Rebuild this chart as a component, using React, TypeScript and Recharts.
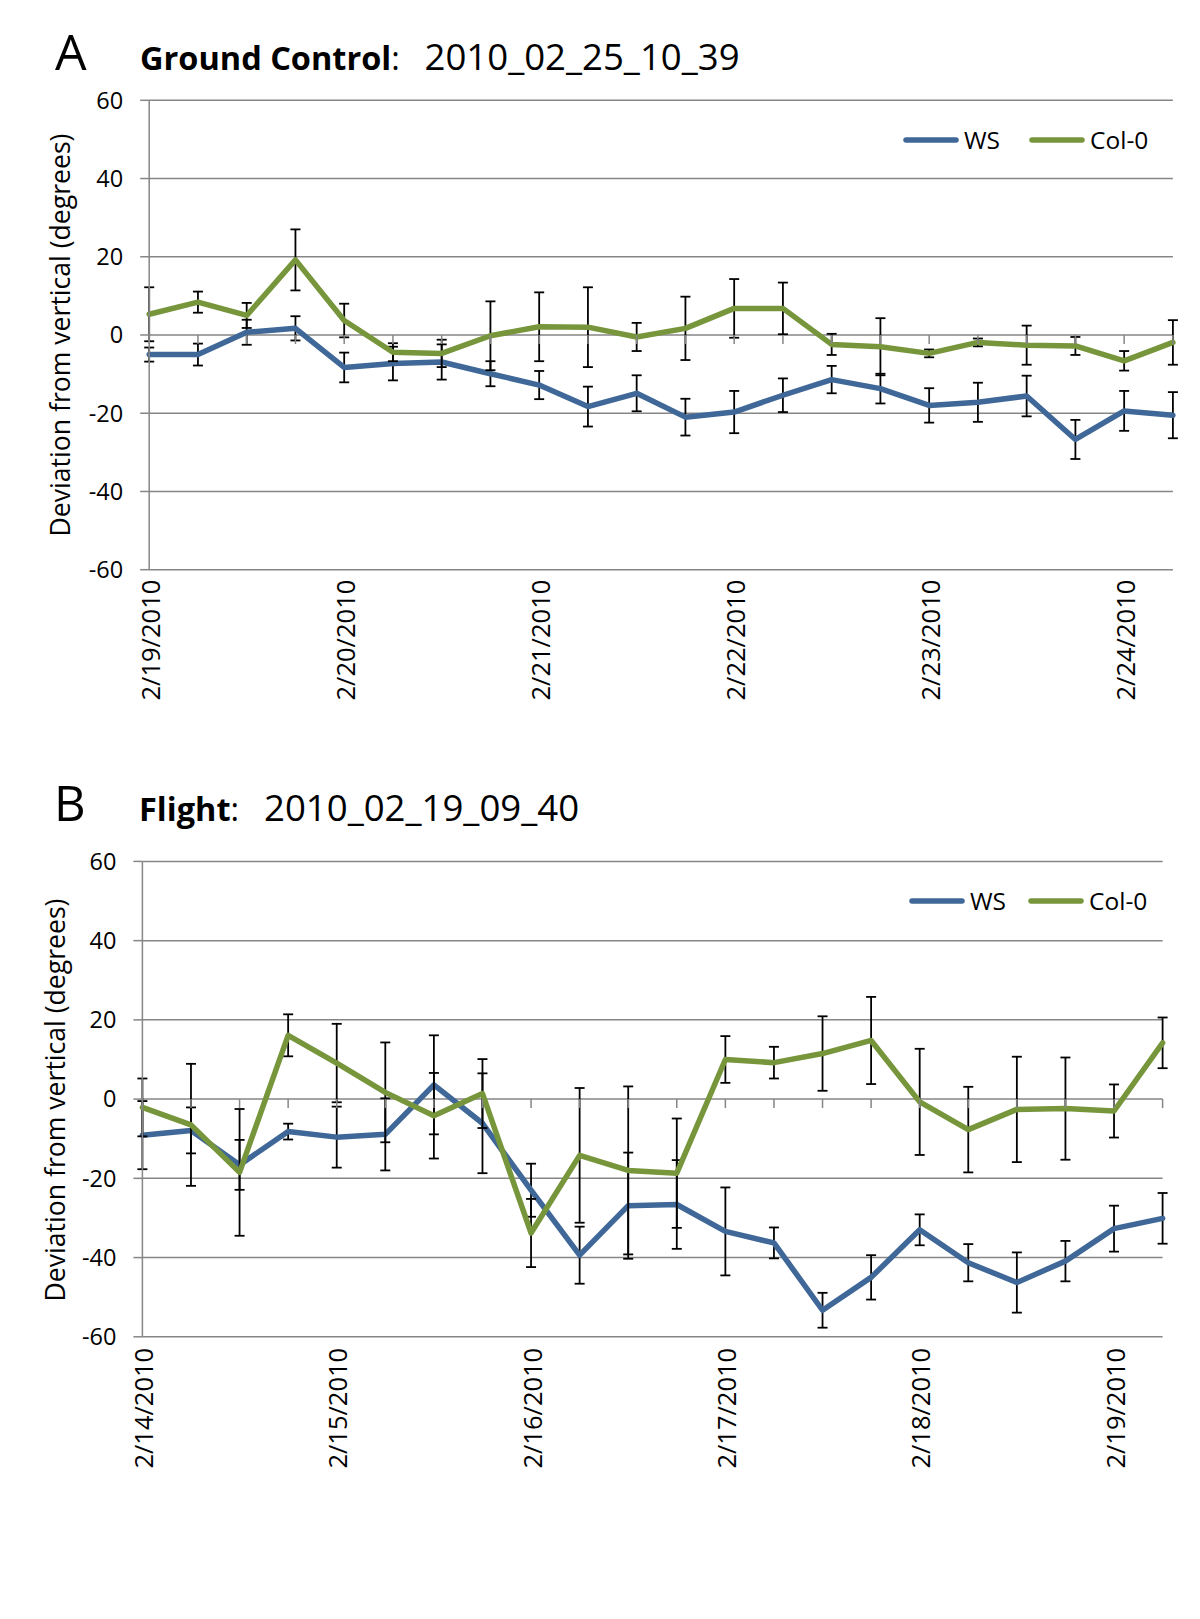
import React from 'react';
import {
  LineChart,
  Line,
  XAxis,
  YAxis,
  CartesianGrid,
  ErrorBar,
  Legend,
  ReferenceDot,
} from 'recharts';

const FONT = '"Open Sans", "DejaVu Sans", sans-serif';
const GRID = '#868686';
const BLUE = '#3F6797';
const GREEN = '#77963C';

// ---------- Panel A: Ground Control ----------
const categoriesA = [
  '2/19/2010 0:00', '2/19/2010 6:00', '2/19/2010 12:00', '2/19/2010 18:00',
  '2/20/2010 0:00', '2/20/2010 6:00', '2/20/2010 12:00', '2/20/2010 18:00',
  '2/21/2010 0:00', '2/21/2010 6:00', '2/21/2010 12:00', '2/21/2010 18:00',
  '2/22/2010 0:00', '2/22/2010 6:00', '2/22/2010 12:00', '2/22/2010 18:00',
  '2/23/2010 0:00', '2/23/2010 6:00', '2/23/2010 12:00', '2/23/2010 18:00',
  '2/24/2010 0:00', '2/24/2010 6:00',
];
const wsA = [-5.0, -5.0, 0.7, 1.7, -8.3, -7.3, -6.9, -9.9, -12.8, -18.3, -14.9, -21.0, -19.7, -15.4, -11.4, -13.7, -18.0, -17.2, -15.6, -26.7, -19.4, -20.5];
const wsErrA = [1.8, 2.8, 3.2, 3.1, 3.8, 4.3, 4.5, 3.2, 3.6, 5.1, 4.6, 4.7, 5.4, 4.3, 3.5, 3.8, 4.4, 5.0, 5.2, 5.0, 5.1, 5.9];
const colA = [5.3, 8.4, 5.0, 19.2, 3.7, -4.4, -4.7, -0.2, 2.1, 2.0, -0.5, 1.7, 6.8, 6.8, -2.4, -3.0, -4.7, -1.9, -2.6, -2.8, -6.6, -1.9];
const colErrA = [6.9, 2.7, 3.2, 7.8, 4.3, 2.3, 3.5, 8.8, 8.8, 10.2, 3.6, 8.1, 7.5, 6.6, 2.7, 7.3, 1.0, 1.0, 5.0, 2.3, 2.5, 5.7];

// ---------- Panel B: Flight ----------
const categoriesB = [
  '2/14/2010 0:00', '2/14/2010 6:00', '2/14/2010 12:00', '2/14/2010 18:00',
  '2/15/2010 0:00', '2/15/2010 6:00', '2/15/2010 12:00', '2/15/2010 18:00',
  '2/16/2010 0:00', '2/16/2010 6:00', '2/16/2010 12:00', '2/16/2010 18:00',
  '2/17/2010 0:00', '2/17/2010 6:00', '2/17/2010 12:00', '2/17/2010 18:00',
  '2/18/2010 0:00', '2/18/2010 6:00', '2/18/2010 12:00', '2/18/2010 18:00',
  '2/19/2010 0:00', '2/19/2010 6:00',
];
const wsB = [-9.1, -7.9, -16.6, -8.2, -9.6, -8.9, 3.6, -6.1, -23.0, -39.4, -26.9, -26.6, -33.4, -36.3, -53.3, -45.0, -33.0, -41.3, -46.3, -40.9, -32.7, -30.1];
const wsErrB = [8.6, 5.8, 6.3, 2.0, 7.7, 9.1, 12.5, 12.6, 6.7, 7.2, 13.4, 11.2, 11.1, 3.9, 4.4, 5.6, 3.9, 4.7, 7.6, 5.1, 5.8, 6.4];
const colB = [-2.1, -6.5, -18.5, 16.1, 9.1, 1.7, -4.2, 1.4, -33.8, -14.2, -18.0, -18.7, 10.0, 9.2, 11.5, 14.8, -0.7, -7.7, -2.6, -2.4, -3.0, 14.2];
const colErrB = [7.3, 15.4, 16.0, 5.3, 9.9, 12.6, 10.8, 8.7, 8.6, 17.0, 21.2, 13.8, 5.9, 4.0, 9.4, 11.0, 13.4, 10.8, 13.3, 12.9, 6.7, 6.4];

const yTicks = [-60, -40, -20, 0, 20, 40, 60];
const seriesNames = ['WS', 'Col-0'];

function buildRows(cats: string[], ws: number[], wsErr: number[], col: number[], colErr: number[]) {
  return cats.map((t, i) => ({ t, ws: ws[i], wsErr: wsErr[i], col: col[i], colErr: colErr[i] }));
}

const dataA = buildRows(categoriesA, wsA, wsErrA, colA, colErrA);
const dataB = buildRows(categoriesB, wsB, wsErrB, colB, colErrB);

const DateTick = (props: any) => {
  const { x, y, payload } = props;
  return (
    <text
      x={x}
      y={y}
      dy="0.42em"
      textAnchor="end"
      transform={`rotate(-90, ${x}, ${y})`}
      fontSize={25.5}
      fontFamily={FONT}
      fill="#000"
    >
      {String(payload.value).split(' ')[0]}
    </text>
  );
};

const ZeroTick = (p: any) => (
  <line x1={p.cx} x2={p.cx} y1={p.cy} y2={p.cy + 9} stroke={GRID} strokeWidth={1.5} />
);

const makeLegend = (gap: number) => (props: any) => {
  const items = [...(props.payload || [])].sort(
    (a: any, b: any) => seriesNames.indexOf(a.value) - seriesNames.indexOf(b.value)
  );
  return (
    <div style={{ display: 'flex', alignItems: 'center', fontFamily: FONT, fontSize: 24.5, lineHeight: '24px', whiteSpace: 'nowrap' }}>
      {items.map((it: any, i: number) => (
        <div key={i} style={{ display: 'flex', alignItems: 'center', marginLeft: i === 0 ? 0 : gap }}>
          <svg width={56} height={10} style={{ display: 'block', marginRight: 5 }}>
            <line x1={3} x2={53} y1={5} y2={5} stroke={it.color} strokeWidth={5.5} strokeLinecap="round" />
          </svg>
          <span style={{ color: '#000' }}>{it.value}</span>
        </div>
      ))}
    </div>
  );
};

type PanelProps = {
  data: any[];
  top: number;
  height: number;
  margin: { top: number; right: number; bottom: number; left: number };
  tickMargin: number;
  legendLeft: number;
  legendTop: number;
  legendGap: number;
};

function Panel({ data, top, height, margin, tickMargin, legendLeft, legendTop, legendGap }: PanelProps) {
  return (
    <div style={{ position: 'absolute', left: 0, top, width: 1200, height }}>
      <LineChart width={1200} height={height} data={data} margin={margin}>
        <CartesianGrid vertical={false} stroke={GRID} strokeWidth={1.5} />
        <XAxis
          dataKey="t"
          interval={3}
          tickLine={false}
          axisLine={false}
          tickSize={0}
          tickMargin={tickMargin}
          height={130}
          tick={DateTick}
        />
        <YAxis
          type="number"
          domain={[-60, 60]}
          ticks={yTicks}
          width={60}
          tickSize={9}
          tickMargin={17}
          axisLine={{ stroke: GRID, strokeWidth: 1.5 }}
          tickLine={{ stroke: GRID, strokeWidth: 1.5 }}
          tick={{ fontSize: 23.5, fill: '#000', fontFamily: FONT }}
          allowDataOverflow
        />
        {data.map((d) => (
          <ReferenceDot key={d.t} x={d.t} y={0} r={0} shape={ZeroTick} ifOverflow="visible" />
        ))}
        <Legend
          verticalAlign="middle"
          align="center"
          layout="horizontal"
          content={makeLegend(legendGap)}
          wrapperStyle={{ left: legendLeft, top: legendTop, width: 'auto' }}
        />
        <Line
          type="linear"
          dataKey="ws"
          name={seriesNames[0]}
          stroke={BLUE}
          strokeWidth={5.5}
          strokeLinecap="round"
          strokeLinejoin="round"
          dot={false}
          activeDot={false}
          isAnimationActive={false}
        >
          <ErrorBar dataKey="wsErr" direction="y" width={5} stroke="#000" strokeWidth={1.8} isAnimationActive={false} />
        </Line>
        <Line
          type="linear"
          dataKey="col"
          name={seriesNames[1]}
          stroke={GREEN}
          strokeWidth={5.5}
          strokeLinecap="round"
          strokeLinejoin="round"
          dot={false}
          activeDot={false}
          isAnimationActive={false}
        >
          <ErrorBar dataKey="colErr" direction="y" width={5} stroke="#000" strokeWidth={1.8} isAnimationActive={false} />
        </Line>
      </LineChart>
    </div>
  );
}

export default function App() {
  return (
    <div style={{ position: 'absolute', left: 0, top: 0, width: 1200, height: 1619, background: '#fff', overflow: 'hidden' }}>
      <Panel
        data={dataA}
        top={0}
        height={720}
        margin={{ top: 100.3, right: 27.1, bottom: 20.3, left: 89.2 }}
        tickMargin={10}
        legendLeft={903}
        legendTop={127.8}
        legendGap={29}
      />
      <Panel
        data={dataB}
        top={740}
        height={740}
        margin={{ top: 121.4, right: 37.4, bottom: 13.2, left: 82.4 }}
        tickMargin={11}
        legendLeft={909}
        legendTop={149.3}
        legendGap={22}
      />
      <svg
        width={1200}
        height={1619}
        style={{ position: 'absolute', left: 0, top: 0, pointerEvents: 'none' }}
      >
        <g fontFamily={FONT} fill="#000">
          <text x={55} y={70} fontSize={50}>A</text>
          <text x={140} y={70} fontSize={32.5}>
            <tspan fontWeight="bold">Ground Control</tspan>
            <tspan>:</tspan>
          </text>
          <text x={424.5} y={70} fontSize={36.6}>2010_02_25_10_39</text>

          <text x={54} y={821} fontSize={49}>B</text>
          <text x={139} y={821} fontSize={32.5}>
            <tspan fontWeight="bold">Flight</tspan>
            <tspan>:</tspan>
          </text>
          <text x={264} y={821} fontSize={36.6}>2010_02_19_09_40</text>

          <text transform="translate(69.5, 335) rotate(-90)" textAnchor="middle" fontSize={26.6}>
            Deviation from vertical (degrees)
          </text>
          <text transform="translate(64.5, 1100) rotate(-90)" textAnchor="middle" fontSize={26.6}>
            Deviation from vertical (degrees)
          </text>
        </g>
      </svg>
    </div>
  );
}
